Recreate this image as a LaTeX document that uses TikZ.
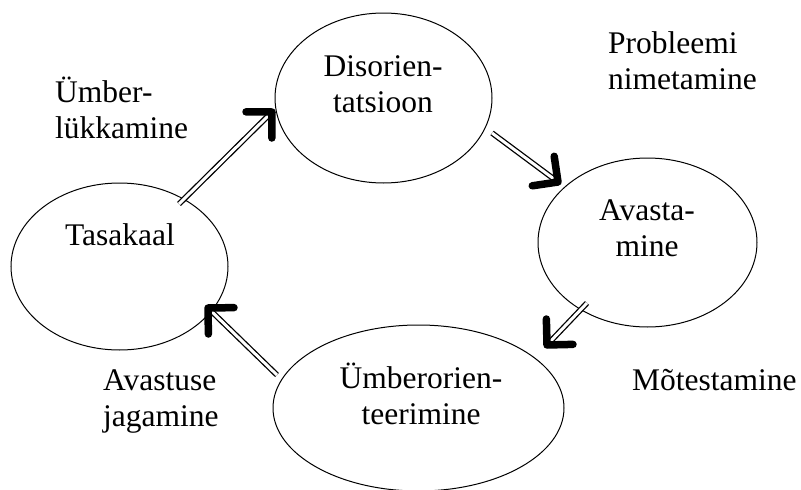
\documentclass[tikz,border=0pt]{standalone}
\usepackage{fontspec}
\setmainfont{Liberation Serif}
\usetikzlibrary{shapes.geometric,calc}
\tikzset{
  ell/.style={draw, ellipse, line width=1pt, inner sep=0pt},
  lbl/.style={inner sep=0pt, align=center, font=\fontsize{31.5}{36}\selectfont},
  lbll/.style={inner sep=0pt, align=left, font=\fontsize{31.5}{36}\selectfont},
  dbl/.style={double, double distance=3pt, line width=1.3pt},
  chev/.style={line width=7.5pt, line cap=round, line join=round}
}
\newcommand\dblarrow[2]{%
  \draw[dbl] (#1) -- ($(#2)!3pt!(#1)$);
  \draw[chev] ($(#2)!26pt!45:(#1)$) -- (#2) -- ($(#2)!26pt!-45:(#1)$);
}
\begin{document}
\begin{tikzpicture}[x=1pt,y=-1pt]
\useasboundingbox (0,0) rectangle (801,490);
% ellipses
\node[ell, minimum width=217pt, minimum height=170pt] (dis) at (383.5,98) {};
\node[ell, minimum width=219pt, minimum height=169pt] (ava) at (647.5,242.5) {};
\node[ell, minimum width=217pt, minimum height=167pt] (tas) at (119.5,266.5) {};
\node[ell, minimum width=291pt, minimum height=166pt] (umb) at (418.5,408) {};
% texts inside (base anchor = last line's baseline)
\node[lbl, anchor=base] (tdis) at (383,112) {Disorien-\\tatsioon};
\node[lbl, anchor=base] (tava) at (647,256) {Avasta-\\mine};
\node[lbl, anchor=base] (ttas) at (120,245) {Tasakaal};
\node[lbl, anchor=base] (tumb) at (421,424) {Ümberorien-\\teerimine};
% side labels
\node[lbll, anchor=base west] (lprob) at (608,89) {Probleemi\\nimetamine};
\node[lbll, anchor=base west] (lumb) at (55,138) {Ümber-\\lükkamine};
\node[lbll, anchor=base west] (lava) at (103,426) {Avastuse\\jagamine};
\node[lbll, anchor=base west] (lmot) at (632,390) {Mõtestamine};
% arrow endpoints
\coordinate (a1s) at (179,204);
\coordinate (a1t) at (272,112);
\coordinate (a2s) at (492,133);
\coordinate (a2t) at (558,182);
\coordinate (a3s) at (587,303);
\coordinate (a3t) at (547,345);
\coordinate (a4s) at (277,375);
\coordinate (a4t) at (208,308);
\dblarrow{a1s}{a1t}
\dblarrow{a2s}{a2t}
\dblarrow{a3s}{a3t}
\dblarrow{a4s}{a4t}
\end{tikzpicture}
\end{document}
